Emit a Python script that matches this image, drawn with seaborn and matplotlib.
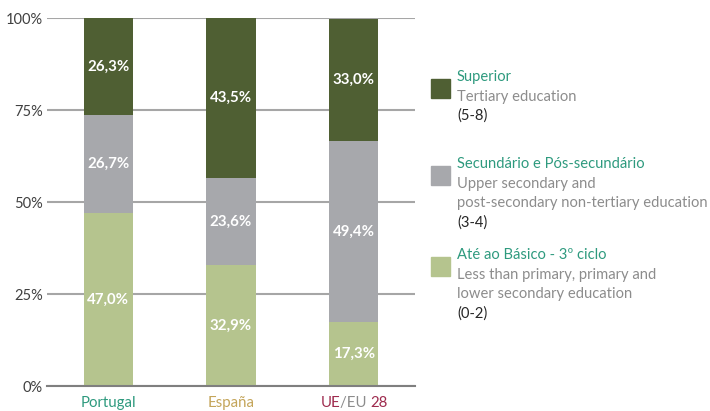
import matplotlib
matplotlib.use("Agg")
import matplotlib.pyplot as plt
import seaborn as sns
import pandas as pd
import numpy as np
from matplotlib.patches import Rectangle

countries = ["Portugal", "España", "UE/EU 28"]
basico = [47.0, 32.9, 17.3]
secundario = [26.7, 23.6, 49.4]
superior = [26.3, 43.5, 33.0]

series_names = ["Superior", "Secundário e Pós-secundário", "Até ao Básico - 3º ciclo"]
series_en = [["Tertiary education"],
             ["Upper secondary and", "post-secondary non-tertiary education"],
             ["Less than primary, primary and", "lower secondary education"]]
series_codes = ["(5-8)", "(3-4)", "(0-2)"]
yticks = [0, 25, 50, 75, 100]
ytick_labels = ["0%", "25%", "50%", "75%", "100%"]

c_sup = "#4F5F33"
c_sec = "#A7A8AC"
c_bas = "#B5C48E"
teal = "#2E9A7E"

sns.set_theme(style="white")
plt.rcParams["font.family"] = ["Lato", "DejaVu Sans"]

W, H = 710, 411
fig = plt.figure(figsize=(W / 100, H / 100), dpi=100)
ax = fig.add_axes([47 / W, 1 - 386 / H, (415 - 47) / W, (386 - 18) / H])

df = pd.DataFrame({"country": countries, "bas": basico, "sec": secundario, "sup": superior})
bottom_sec = df["bas"].values
bottom_sup = (df["bas"] + df["sec"]).values

for ycol, bot, col in [("bas", None, c_bas), ("sec", bottom_sec, c_sec), ("sup", bottom_sup, c_sup)]:
    kw = {} if bot is None else {"bottom": bot}
    sns.barplot(data=df, x="country", y=ycol, color=col, width=0.4, saturation=1,
                ax=ax, linewidth=0, **kw)

for cont in ax.containers:
    labels = [f"{r.get_height():.1f}%".replace(".", ",") for r in cont]
    ax.bar_label(cont, labels=labels, label_type="center", color="white",
                 fontsize=10.8, fontweight="bold")

ax.set_xlim(-0.5, 2.5)
ax.set_ylim(0, 100)
ax.set_yticks(yticks)
ax.set_yticklabels(ytick_labels, fontsize=10.5, color="#404040")
ax.set_xlabel("")
ax.set_ylabel("")
ax.set_xticks(range(3))
ax.set_xticklabels(["", "", ""])
ax.tick_params(axis="y", length=0, pad=3)
ax.tick_params(axis="x", length=0)
ax.yaxis.grid(True, color="#A6A6A6", linewidth=1.5)
ax.set_axisbelow(True)
for s in ["top", "right", "left"]:
    ax.spines[s].set_visible(False)
ax.spines["bottom"].set_color("#7F7F7F")
ax.spines["bottom"].set_linewidth(1.5)

# x category labels
tr = ax.get_xaxis_transform()
fs_x = 10.8
ax.text(0, -0.047, "Portugal", transform=tr, ha="center", va="center", color=teal, fontsize=fs_x)
ax.text(1, -0.047, "España", transform=tr, ha="center", va="center", color="#C4A55A", fontsize=fs_x)
t1 = ax.text(2 - 0.27, -0.047, "UE", transform=tr, ha="left", va="center", color="#9E2B4E", fontsize=fs_x)
t2 = ax.annotate("/EU ", xy=(1, 0.5), xycoords=t1, ha="left", va="center", color="#8C8C8C", fontsize=fs_x, annotation_clip=False)
t3 = ax.annotate("28", xy=(1, 0.5), xycoords=t2, ha="left", va="center", color="#9E2B4E", fontsize=fs_x, annotation_clip=False)

# legend
def fx(px):
    return px / W

def fy(py):
    return 1 - py / H

fs_l = 10.6
leg = [(c_sup, 79), (c_sec, 166), (c_bas, 257)]
for i, (col, ytop) in enumerate(leg):
    fig.patches.append(Rectangle((fx(431), fy(ytop + 19)), 19 / W, 19 / H, color=col,
                                 transform=fig.transFigure, figure=fig))
    y = ytop - 2
    fig.text(fx(457), fy(y), series_names[i], color=teal, fontsize=fs_l, va="center", ha="left")
    for line in series_en[i]:
        y += 19.5
        fig.text(fx(457), fy(y), line, color="#8C8C8C", fontsize=fs_l, va="center", ha="left")
    y += 19.5
    fig.text(fx(457), fy(y), series_codes[i], color="#262626", fontsize=fs_l, va="center", ha="left")

fig.savefig("out.png", dpi=100)
